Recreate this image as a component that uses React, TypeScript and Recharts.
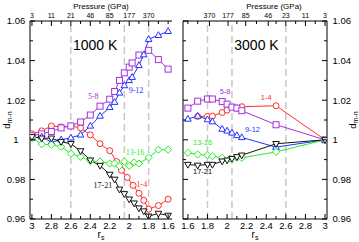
import React from 'react'
import { LineChart, Line, XAxis, YAxis, ReferenceLine, ReferenceDot, Label } from 'recharts'

const SANS = 'Liberation Sans, Arial, sans-serif'
const SERIF = 'Liberation Serif, Times New Roman, serif'

const RED = '#ff2a2a'
const PURPLE = '#a530e0'
const BLUE = '#2233ff'
const GREEN = '#22ee22'
const BLACK = '#111111'

// axes
const rsMajor = [3, 2.8, 2.6, 2.4, 2.2, 2, 1.8, 1.6]
const rsMinor = [2.9, 2.7, 2.5, 2.3, 2.1, 1.9, 1.7]
const dMajor = [0.96, 0.98, 1, 1.02, 1.04, 1.06]
const dMinor = [0.97, 0.99, 1.01, 1.03, 1.05]
const transitionRs = [2.6, 2.05, 1.8]

// pressure (GPa) on the top axis
const pressureLeft = ['3', '11', '21', '46', '85', '177', '370']
const pressureLeftRs = [3, 2.8, 2.6, 2.4, 2.2, 2, 1.8]
const pressureLeftMinor = [2.9, 2.7, 2.5, 2.3, 2.1, 1.9, 1.7, 1.6]
const pressureRight = ['370', '177', '85', '46', '23', '11', '3']
const pressureRightRs = [1.82, 2.01, 2.19, 2.42, 2.6, 2.8, 3]
const pressureRightMinor = [1.6, 1.7, 2.1, 2.3, 2.5, 2.7, 2.9]

// 1000 K
const rs1000Red = [3, 2.9, 2.8, 2.7, 2.6, 2.5, 2.4, 2.3, 2.2, 2.13, 2.08, 2.02, 1.96, 1.9, 1.85, 1.8, 1.7, 1.6]
const d1000Red = [1.003, 1.0045, 1.007, 1.0065, 1.007, 1.006, 1.0025, 0.998, 0.9945, 0.989, 0.9846, 0.981, 0.977, 0.973, 0.9694, 0.965, 0.9668, 0.97]
const rs1000Purple = [3, 2.9, 2.8, 2.7, 2.6, 2.5, 2.4, 2.3, 2.2, 2.15, 2.1, 2.05, 2, 1.97, 1.9, 1.8, 1.7, 1.6]
const d1000Purple = [1.002, 1.003, 1.0042, 1.006, 1.007, 1.009, 1.0125, 1.017, 1.0205, 1.0244, 1.03, 1.0338, 1.0367, 1.0388, 1.0428, 1.0452, 1.0405, 1.0357]
const rs1000Blue = [3, 2.9, 2.8, 2.7, 2.6, 2.5, 2.4, 2.3, 2.2, 2.15, 2.1, 2.05, 2, 1.97, 1.9, 1.85, 1.8, 1.7, 1.6]
const d1000Blue = [1.001, 1.0015, 0.9988, 1.0, 1.001, 1.0025, 1.007, 1.012, 1.0164, 1.019, 1.0237, 1.0274, 1.03, 1.0316, 1.0376, 1.043, 1.0508, 1.0528, 1.0548]
const rs1000Green = [3, 2.9, 2.8, 2.7, 2.6, 2.5, 2.4, 2.3, 2.2, 2.15, 2.1, 2.05, 2, 1.95, 1.9, 1.8, 1.7, 1.6]
const d1000Green = [1.001, 0.9978, 0.9975, 0.9965, 0.993, 0.9914, 0.9893, 0.989, 0.988, 0.988, 0.9868, 0.989, 0.9868, 0.9886, 0.988, 0.991, 0.995, 0.995]
const rs1000Black = [3, 2.9, 2.8, 2.7, 2.6, 2.5, 2.4, 2.3, 2.2, 2.15, 2.1, 2.05, 2, 1.95, 1.9, 1.85, 1.8, 1.7, 1.6]
const d1000Black = [1.0015, 1.0008, 1.0008, 0.999, 0.998, 0.9944, 0.9897, 0.987, 0.9825, 0.98, 0.975, 0.9727, 0.97, 0.968, 0.9655, 0.964, 0.9614, 0.9628, 0.9618]

// 3000 K
const rs3000Red = [1.7, 1.8, 1.85, 1.95, 2, 2.1, 2.15, 2.5, 3]
const d3000Red = [1.0118, 1.0118, 1.012, 1.0138, 1.015, 1.016, 1.0167, 1.0172, 1.0]
const rs3000Purple = [1.6, 1.7, 1.8, 1.85, 1.95, 2, 2.05, 2.1, 2.15, 2.5, 3]
const d3000Purple = [1.016, 1.0195, 1.0206, 1.0206, 1.0193, 1.018, 1.0165, 1.016, 1.0147, 1.0076, 1.0]
const rs3000Blue = [1.6, 1.7, 1.8, 1.85, 1.95, 2, 2.05, 2.1, 2.15, 2.5, 3]
const d3000Blue = [1.0105, 1.012, 1.0102, 1.0092, 1.0054, 1.0045, 1.0035, 1.0022, 1.0012, 0.9963, 1.0]
const rs3000Green = [1.6, 1.7, 1.8, 1.85, 1.95, 2.03, 2.1, 2.15, 2.5, 3]
const d3000Green = [0.9934, 0.9926, 0.9922, 0.9917, 0.9909, 0.9905, 0.9909, 0.9909, 0.9939, 1.0]
const rs3000Black = [1.6, 1.7, 1.8, 1.85, 1.95, 2, 2.05, 2.1, 2.15, 2.5, 3]
const d3000Black = [0.9875, 0.9871, 0.9875, 0.9875, 0.9892, 0.9897, 0.9905, 0.9914, 0.9922, 0.998, 1.0]

type Shape = 'circle' | 'square' | 'up' | 'down' | 'diamond'

const pts = (rs: number[], d: number[]) => rs.map((r, i) => ({ rs: r, d: d[i] }))

// the last two series are plotted against the top (pressure) axis, which has the same r_s domain
const series1000 = [
  { name: '1-4', data: pts(rs1000Red, d1000Red), color: RED, shape: 'circle' as Shape, axis: 0 },
  { name: '5-8', data: pts(rs1000Purple, d1000Purple), color: PURPLE, shape: 'square' as Shape, axis: 0 },
  { name: '9-12', data: pts(rs1000Blue, d1000Blue), color: BLUE, shape: 'up' as Shape, axis: 0 },
  { name: '13-16', data: pts(rs1000Green, d1000Green), color: GREEN, shape: 'diamond' as Shape, axis: 'top' },
  { name: '17-21', data: pts(rs1000Black, d1000Black), color: BLACK, shape: 'down' as Shape, axis: 'top' },
]
const series3000 = [
  { name: '1-4', data: pts(rs3000Red, d3000Red), color: RED, shape: 'circle' as Shape, axis: 0 },
  { name: '5-8', data: pts(rs3000Purple, d3000Purple), color: PURPLE, shape: 'square' as Shape, axis: 0 },
  { name: '9-12', data: pts(rs3000Blue, d3000Blue), color: BLUE, shape: 'up' as Shape, axis: 0 },
  { name: '13-16', data: pts(rs3000Green, d3000Green), color: GREEN, shape: 'diamond' as Shape, axis: 'top' },
  { name: '17-21', data: pts(rs3000Black, d3000Black), color: BLACK, shape: 'down' as Shape, axis: 'top' },
]

// label positions, in data units
const labels1000 = [
  { text: '5-8', rs: 2.37, d: 1.0218, color: PURPLE },
  { text: '9-12', rs: 1.93, d: 1.0249, color: BLUE },
  { text: '13-16', rs: 1.94, d: 0.9939, color: GREEN },
  { text: '1-4', rs: 1.87, d: 0.9777, color: RED },
  { text: '17-21', rs: 2.27, d: 0.9772, color: BLACK },
]
const labels3000 = [
  { text: '5-8', rs: 1.98, d: 1.0244, color: PURPLE },
  { text: '1-4', rs: 2.4, d: 1.0213, color: RED },
  { text: '9-12', rs: 2.26, d: 1.0053, color: BLUE },
  { text: '13-16', rs: 1.75, d: 0.9985, color: GREEN },
  { text: '17-21', rs: 1.75, d: 0.9843, color: BLACK },
]

const marker = (shape: Shape, color: string) => (p: any) => {
  const { cx, cy, index } = p
  const k = `${shape}-${index}`
  if (cx == null || cy == null) return <g key={k} />
  const s = { fill: '#fff', stroke: color, strokeWidth: 1 }
  if (shape === 'circle') return <circle key={k} cx={cx} cy={cy} r={3} {...s} />
  if (shape === 'square') return <rect key={k} x={cx - 3} y={cy - 3} width={6} height={6} {...s} />
  if (shape === 'up')
    return <polygon key={k} points={`${cx},${cy - 3.6} ${cx - 3.3},${cy + 2.2} ${cx + 3.3},${cy + 2.2}`} {...s} />
  if (shape === 'down')
    return <polygon key={k} points={`${cx},${cy + 3.6} ${cx - 3.3},${cy - 2.2} ${cx + 3.3},${cy - 2.2}`} {...s} />
  return <polygon key={k} points={`${cx},${cy - 3.6} ${cx + 3.6},${cy} ${cx},${cy + 3.6} ${cx - 3.6},${cy}`} {...s} />
}

const near = (a: number[], v: number) => a.some((m) => Math.abs(m - v) < 1e-6)

type Side = 'bottom' | 'top' | 'left' | 'right'
const axisTick = (side: Side, majors: number[], fmt: ((v: number) => string) | null, fontSize: number) =>
  (props: any) => {
    const { x, y, payload, index } = props
    const v = payload.value as number
    const major = near(majors, v)
    const len = major ? 5 : 3
    const label = major && fmt ? fmt(v) : ''
    const t = { fontSize, fontFamily: SANS, fill: '#000' }
    if (side === 'bottom')
      return (
        <g key={`b${index}`}>
          <line x1={x} x2={x} y1={y} y2={y - len} stroke="#000" />
          {label && <text x={x} y={y + 9.5} textAnchor="middle" {...t}>{label}</text>}
        </g>
      )
    if (side === 'top')
      return (
        <g key={`t${index}`}>
          <line x1={x} x2={x} y1={y} y2={y + len} stroke="#000" />
          {label && <text x={x} y={y - 3} textAnchor="middle" {...t}>{label}</text>}
        </g>
      )
    if (side === 'left')
      return (
        <g key={`l${index}`}>
          <line x1={x} x2={x + len} y1={y} y2={y} stroke="#000" />
          {label && <text x={x - 14} y={y + 3.3} textAnchor="middle" {...t}>{label}</text>}
        </g>
      )
    return (
      <g key={`r${index}`}>
        <line x1={x} x2={x - len} y1={y} y2={y} stroke="#000" />
        {label && <text x={x + 5.5} y={y + 3.3} textAnchor="start" {...t}>{label}</text>}
      </g>
    )
  }

const rsLabel = (props: any) => {
  const vb = props.viewBox || {}
  return (
    <text x={vb.x + vb.width / 2} y={vb.y + 19} textAnchor="middle" fontSize={10} fontFamily={SANS} fill="#000">
      r<tspan fontSize={7} dy={2}>s</tspan>
    </text>
  )
}

const pressureLabel = (dx: number) => (props: any) => {
  const vb = props.viewBox || {}
  return (
    <text x={vb.x + vb.width / 2 + dx} y={8.5} textAnchor="middle" fontSize={8} fontFamily={SANS} fill="#000">
      Pressure (GPa)
    </text>
  )
}

const dLabel = (xPos: (vb: any) => number) => (props: any) => {
  const vb = props.viewBox || {}
  const x = xPos(vb)
  const y = vb.y + vb.height / 2
  return (
    <text x={x} y={y} transform={`rotate(-90 ${x} ${y})`} textAnchor="middle" fontSize={9.5} fontFamily={SANS} fill="#000">
      d<tspan fontSize={7} dy={2}>m-n</tspan>
    </text>
  )
}

const fmtNum = (v: number) => String(v)
const fmtPressure = (rsList: number[], names: string[]) => (v: number) => {
  const i = rsList.findIndex((r) => Math.abs(r - v) < 1e-6)
  return i >= 0 ? names[i] : ''
}

const axisLine = { stroke: '#000', strokeWidth: 1 }
const yTicks = [...dMajor, ...dMinor].sort((a, b) => a - b)
const xTicks = [...rsMajor, ...rsMinor].sort((a, b) => a - b)

export default function App() {
  return (
    <div style={{ position: 'absolute', left: 0, top: 0, width: 359, height: 242, background: '#fff' }}>
      <div style={{ position: 'absolute', left: 0, top: 0 }}>
        <LineChart width={180} height={242} margin={{ top: 0, right: 8, bottom: 0, left: 0 }}>
          <XAxis dataKey="rs" type="number" domain={[1.56, 3.02]} reversed allowDataOverflow height={23}
            ticks={xTicks} interval={0} tickSize={0} tickMargin={0} tickLine={false} axisLine={axisLine}
            tick={axisTick('bottom', rsMajor, fmtNum, 9.5)}>
            <Label content={rsLabel} />
          </XAxis>
          <XAxis xAxisId="top" dataKey="rs" orientation="top" type="number" domain={[1.56, 3.02]} reversed allowDataOverflow height={21}
            ticks={[...pressureLeftRs, ...pressureLeftMinor]} interval={0} tickSize={0} tickMargin={0} tickLine={false}
            axisLine={axisLine} tick={axisTick('top', pressureLeftRs, fmtPressure(pressureLeftRs, pressureLeft), 7)}>
            <Label content={pressureLabel(0)} />
          </XAxis>
          <YAxis dataKey="d" type="number" domain={[0.96, 1.06]} allowDataOverflow width={30}
            ticks={yTicks} interval={0} tickSize={0} tickMargin={0} tickLine={false} axisLine={axisLine}
            tick={axisTick('left', dMajor, fmtNum, 9.5)}>
            <Label content={dLabel(() => 10)} />
          </YAxis>
          <YAxis yAxisId="right" orientation="right" type="number" domain={[0.96, 1.06]} allowDataOverflow width={0}
            ticks={yTicks} interval={0} tickSize={0} tickMargin={0} tickLine={false} axisLine={axisLine}
            tick={axisTick('right', dMajor, null, 9.5)} />
          {transitionRs.map((r) => (
            <ReferenceLine key={r} x={r} stroke="#c8c8c8" strokeWidth={1.5} strokeDasharray="7 4" />
          ))}
          {series1000.map((s) => (
            <Line key={s.name} xAxisId={s.axis} data={s.data} dataKey="d" type="linear" stroke={s.color} strokeWidth={1}
              dot={marker(s.shape, s.color)} activeDot={false} isAnimationActive={false} />
          ))}
          <ReferenceDot x={2.35} y={1.0477} r={0} fill="none" stroke="none"
            label={{ value: '1000 K', position: 'center', fontSize: 14, fontFamily: SANS, fill: '#000' }} />
          {labels1000.map((l) => (
            <ReferenceDot key={l.text} x={l.rs} y={l.d} r={0} fill="none" stroke="none"
              label={{ value: l.text, position: 'center', fontSize: 8, fontFamily: SERIF, fill: l.color }} />
          ))}
        </LineChart>
      </div>
      <div style={{ position: 'absolute', left: 180, top: 0 }}>
        <LineChart width={179} height={242} margin={{ top: 0, right: 0, bottom: 0, left: 0 }}>
          <XAxis dataKey="rs" type="number" domain={[1.55, 3.02]} allowDataOverflow height={23}
            ticks={xTicks} interval={0} tickSize={0} tickMargin={0} tickLine={false} axisLine={axisLine}
            tick={axisTick('bottom', rsMajor, fmtNum, 9.5)}>
            <Label content={rsLabel} />
          </XAxis>
          <XAxis xAxisId="top" dataKey="rs" orientation="top" type="number" domain={[1.55, 3.02]} allowDataOverflow height={21}
            ticks={[...pressureRightRs, ...pressureRightMinor]} interval={0} tickSize={0} tickMargin={0} tickLine={false}
            axisLine={axisLine} tick={axisTick('top', pressureRightRs, fmtPressure(pressureRightRs, pressureRight), 7)}>
            <Label content={pressureLabel(19)} />
          </XAxis>
          <YAxis dataKey="d" type="number" domain={[0.96, 1.06]} allowDataOverflow width={3}
            ticks={yTicks} interval={0} tickSize={0} tickMargin={0} tickLine={false} axisLine={axisLine}
            tick={axisTick('left', dMajor, null, 9.5)} />
          <YAxis yAxisId="right" orientation="right" type="number" domain={[0.96, 1.06]} allowDataOverflow width={32}
            ticks={yTicks} interval={0} tickSize={0} tickMargin={0} tickLine={false} axisLine={axisLine}
            tick={axisTick('right', dMajor, fmtNum, 9.5)}>
            <Label content={dLabel((vb) => vb.x + vb.width - 3)} />
          </YAxis>
          {transitionRs.map((r) => (
            <ReferenceLine key={r} x={r} stroke="#c8c8c8" strokeWidth={1.5} strokeDasharray="7 4" />
          ))}
          {series3000.map((s) => (
            <Line key={s.name} xAxisId={s.axis} data={s.data} dataKey="d" type="linear" stroke={s.color} strokeWidth={1}
              dot={marker(s.shape, s.color)} activeDot={false} isAnimationActive={false} />
          ))}
          <ReferenceDot x={2.3} y={1.0477} r={0} fill="none" stroke="none"
            label={{ value: '3000 K', position: 'center', fontSize: 14, fontFamily: SANS, fill: '#000' }} />
          {labels3000.map((l) => (
            <ReferenceDot key={l.text} x={l.rs} y={l.d} r={0} fill="none" stroke="none"
              label={{ value: l.text, position: 'center', fontSize: 7.5, fontFamily: SANS, fill: l.color }} />
          ))}
        </LineChart>
      </div>
    </div>
  )
}
